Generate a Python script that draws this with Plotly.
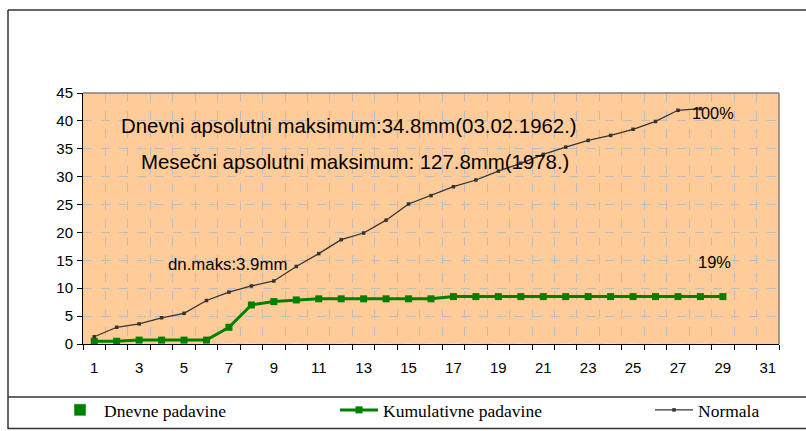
import plotly.graph_objects as go

# ---------------- data ----------------
days_kum = list(range(1, 30))
kumulativne = [0.5, 0.5, 0.7, 0.7, 0.7, 0.7, 3.0, 7.0, 7.6, 7.9,
               8.1, 8.1, 8.1, 8.1, 8.1, 8.1, 8.5, 8.5, 8.5, 8.5,
               8.5, 8.5, 8.5, 8.5, 8.5, 8.5, 8.5, 8.5, 8.5]
dnevne = [0] * 29  # daily bars are not visible in the reference
days_norm = list(range(1, 29))
normala = [1.3, 3.0, 3.6, 4.7, 5.5, 7.8, 9.3, 10.4, 11.3, 13.9,
           16.2, 18.7, 19.9, 22.2, 25.1, 26.6, 28.2, 29.4, 31.0, 32.4,
           34.0, 35.3, 36.5, 37.4, 38.5, 39.9, 41.9, 42.2]
x_tick_vals = list(range(1, 32, 2))
y_tick_vals = list(range(0, 46, 5))

# ---------------- layout geometry ----------------
W, H = 806, 431
L, R, T, B = 83, 27, 93, 87
PW, PH = W - L - R, H - T - B


def px_x(px):
    return (px - L) / PW


def px_y(py):
    return (H - B - py) / PH


GREEN = "#008000"
SANS = "Liberation Sans, Arial, sans-serif"
SERIF = "Liberation Serif, Times New Roman, serif"

fig = go.Figure()
fig.add_trace(go.Bar(x=days_kum, y=dnevne, name="Dnevne padavine",
                     marker_color=GREEN, legend="legend", showlegend=True))
fig.add_trace(go.Scatter(x=days_kum, y=kumulativne, mode="lines+markers",
                         name="Kumulativne padavine",
                         line=dict(color=GREEN, width=3),
                         marker=dict(symbol="square", size=7, color=GREEN),
                         legend="legend2", showlegend=True))
fig.add_trace(go.Scatter(x=days_norm, y=normala, mode="lines+markers",
                         name="Normala",
                         line=dict(color="#333333", width=1.3),
                         marker=dict(symbol="square", size=3.5, color="#333333"),
                         legend="legend3", showlegend=True))

grid_col = "#bdbdbd"
fig.update_xaxes(range=[0.5, 31.5], tickmode="array", tickvals=x_tick_vals,
                 ticks="", showgrid=False, zeroline=False,
                 showline=True, linecolor="black", linewidth=1,
                 tickfont=dict(family=SANS, size=15, color="black"),
                 ticklabelstandoff=10,
                 minor=dict(tickmode="linear", tick0=0.5, dtick=1,
                            ticks="outside", ticklen=5, tickcolor="black",
                            showgrid=True, gridcolor=grid_col, griddash="dash",
                            gridwidth=1))
fig.update_yaxes(range=[0, 45], tickmode="array", tickvals=y_tick_vals,
                 ticks="outside", ticklen=5, tickcolor="black",
                 showgrid=True, gridcolor=grid_col, griddash="dash",
                 zeroline=False, showline=True, linecolor="black", linewidth=1,
                 tickfont=dict(family=SANS, size=15, color="black"),
                 ticklabelstandoff=1)

ann_font = dict(family=SANS, size=20.4, color="black")
annotations = [
    dict(text="Dnevni apsolutni maksimum:34.8mm(03.02.1962.)", x=2.1, y=39.1,
         font=ann_font),
    dict(text="Mesečni apsolutni maksimum: 127.8mm(1978.)", x=2.98, y=32.6,
         font=ann_font),
    dict(text="dn.maks:3.9mm", x=4.2, y=14.3,
         font=dict(family=SANS, size=16.8, color="black")),
    dict(text="100%", x=27.55, y=41.4,
         font=dict(family=SANS, size=16.3, color="black")),
    dict(text="19%", x=27.8, y=14.7,
         font=dict(family=SANS, size=16.5, color="black")),
]
for a in annotations:
    a.update(xref="x", yref="y", xanchor="left", yanchor="middle",
             showarrow=False)

frame = dict(color="#333333", width=1.5)
shapes = [
    # plot area top/right border
    dict(type="line", xref="paper", yref="paper", x0=0, x1=1, y0=1, y1=1,
         line=dict(color="#808080", width=1.5), layer="above"),
    dict(type="line", xref="paper", yref="paper", x0=1, x1=1, y0=0, y1=1,
         line=dict(color="#808080", width=1.5), layer="above"),
    # outer chart frame
    dict(type="line", xref="paper", yref="paper", x0=px_x(8), x1=px_x(812),
         y0=px_y(10), y1=px_y(10), line=frame),
    dict(type="line", xref="paper", yref="paper", x0=px_x(8), x1=px_x(8),
         y0=px_y(10), y1=px_y(429), line=frame),
    dict(type="line", xref="paper", yref="paper", x0=px_x(8), x1=px_x(812),
         y0=px_y(397), y1=px_y(397), line=frame),
    dict(type="line", xref="paper", yref="paper", x0=px_x(8), x1=px_x(812),
         y0=px_y(428.5), y1=px_y(428.5), line=frame),
]


def legend_at(left_px):
    return dict(xref="container", yref="container", x=left_px / W,
                y=(H - 410) / H, xanchor="left", yanchor="middle",
                orientation="h", itemwidth=38, bgcolor="rgba(0,0,0,0)",
                font=dict(family=SERIF, size=17.5, color="black"))


fig.update_layout(
    width=W, height=H, autosize=False, showlegend=True,
    margin=dict(l=L, r=R, t=T, b=B),
    paper_bgcolor="white", plot_bgcolor="#FFCC99",
    bargap=0.5,
    annotations=annotations, shapes=shapes,
    legend=legend_at(56), legend2=legend_at(335), legend3=legend_at(650),
)

fig.write_html("out.html",
               config={"displayModeBar": False},
               post_script="document.body.style.margin='0';"
                           "document.body.style.overflow='hidden';")
